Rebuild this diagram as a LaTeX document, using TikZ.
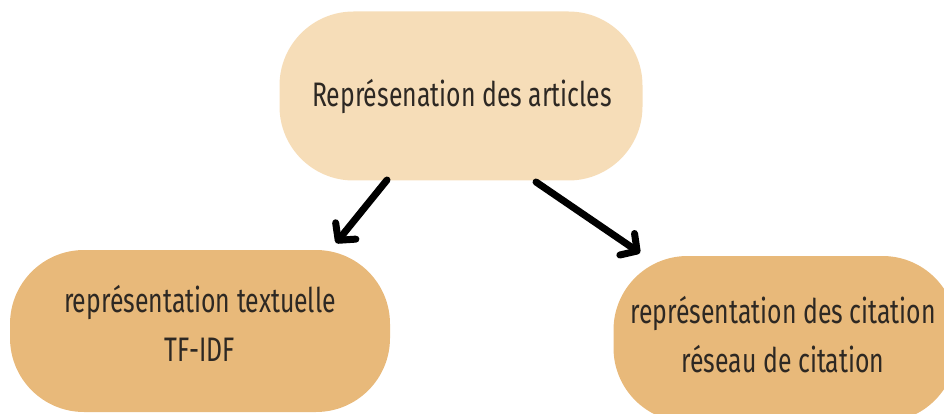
\documentclass[tikz,border=0pt]{standalone}
\usepackage{fontspec}
\setmainfont[FakeStretch=0.73]{Fira Sans}
\usetikzlibrary{arrows.meta}
\definecolor{paleSand}{RGB}{246,221,184}
\definecolor{warmSand}{RGB}{232,185,122}
\definecolor{inkGrey}{RGB}{45,40,35}
\tikzset{
  x=1pt, y=-1pt,
  pill/.style={rounded corners=74pt, inner sep=0pt},
  caption/.style={align=center, inner sep=0pt,
    font=\fontsize{34}{49}\selectfont, text=inkGrey},
  link/.style={line width=7pt, draw=black, line cap=round,
    -{Straight Barb[length=12pt, width=26pt, line width=7pt, round]}}
}
\begin{document}
\begin{tikzpicture}
\useasboundingbox (0,0) rectangle (944,414);
\clip (0,0) rectangle (944,414);
% rounded boxes
\node[pill, fill=paleSand, minimum width=363pt, minimum height=169pt]
  (top) at (461,96) {};
\node[pill, fill=warmSand, minimum width=380pt, minimum height=162pt]
  (left) at (200,331) {};
\node[pill, fill=warmSand, minimum width=343pt, minimum height=166pt]
  (right) at (785,339) {};
% box texts
\node[caption] (topText) at (462,97) {Représenation des articles};
\node[caption] (leftText) at (200,323) {représentation textuelle\\TF-IDF};
\node[caption] (rightText) at (783,335) {représentation des citation\\réseau de citation};
% arrows
\coordinate (ls) at (387,180);
\coordinate (rs) at (536,182);
\coordinate (le) at (336,243);
\coordinate (re) at (640,253);
\draw[link] (ls) -- (le);
\draw[link] (rs) -- (re);
\end{tikzpicture}
\end{document}
